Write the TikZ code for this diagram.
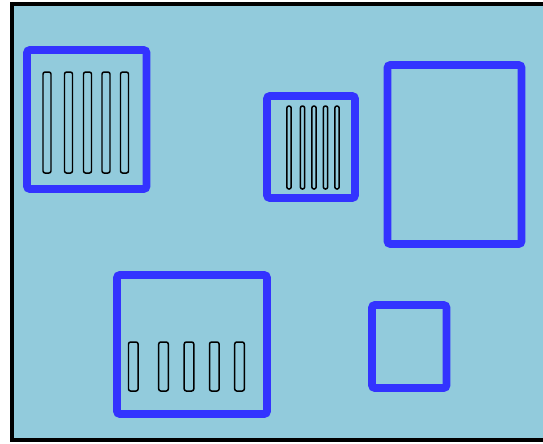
\documentclass[tikz,border=0pt]{standalone}
\usepackage{xcolor}
\usepackage{tikz}

\definecolor{boardblue}{RGB}{146,203,220}
\definecolor{framecol}{RGB}{51,51,255}

\begin{document}
\begin{tikzpicture}[x=0.02cm,y=-0.02cm,
    frame/.style={line width=4.3pt,framecol,rounded corners=1.5pt},
    slot/.style={line width=0.85pt,black,rounded corners=1.2pt}]
  \useasboundingbox (0,0) rectangle (543,443);
  \clip (0,0) rectangle (543,443);
  % --- board
  \draw[line width=2.4pt,fill=boardblue] (12,4) rectangle (580,440);
  % --- top left: tall slots
  \draw[frame] (27,50) rectangle (146.5,189);
  \foreach \c in {47,68.5,87.5,106,124.5}{
    \draw[slot] ({\c-4},72) rectangle ({\c+4},173);}
  % --- middle: narrow slots
  \draw[frame] (267,96) rectangle (355,198);
  \foreach \c in {289,302.5,314,325.5,337}{
    \draw[slot] ({\c-2.2},106) rectangle ({\c+2.2},189);}
  % --- right: empty frames
  \draw[frame] (387.5,65) rectangle (521.5,244);
  \draw[frame] (372,305) rectangle (446.5,388);
  % --- bottom left: short slots
  \draw[frame] (117,275) rectangle (267,414);
  \foreach \c in {133.3,163.5,189,214.3,239.5}{
    \draw[slot] ({\c-4.8},342) rectangle ({\c+4.8},391);}
\end{tikzpicture}
\end{document}
